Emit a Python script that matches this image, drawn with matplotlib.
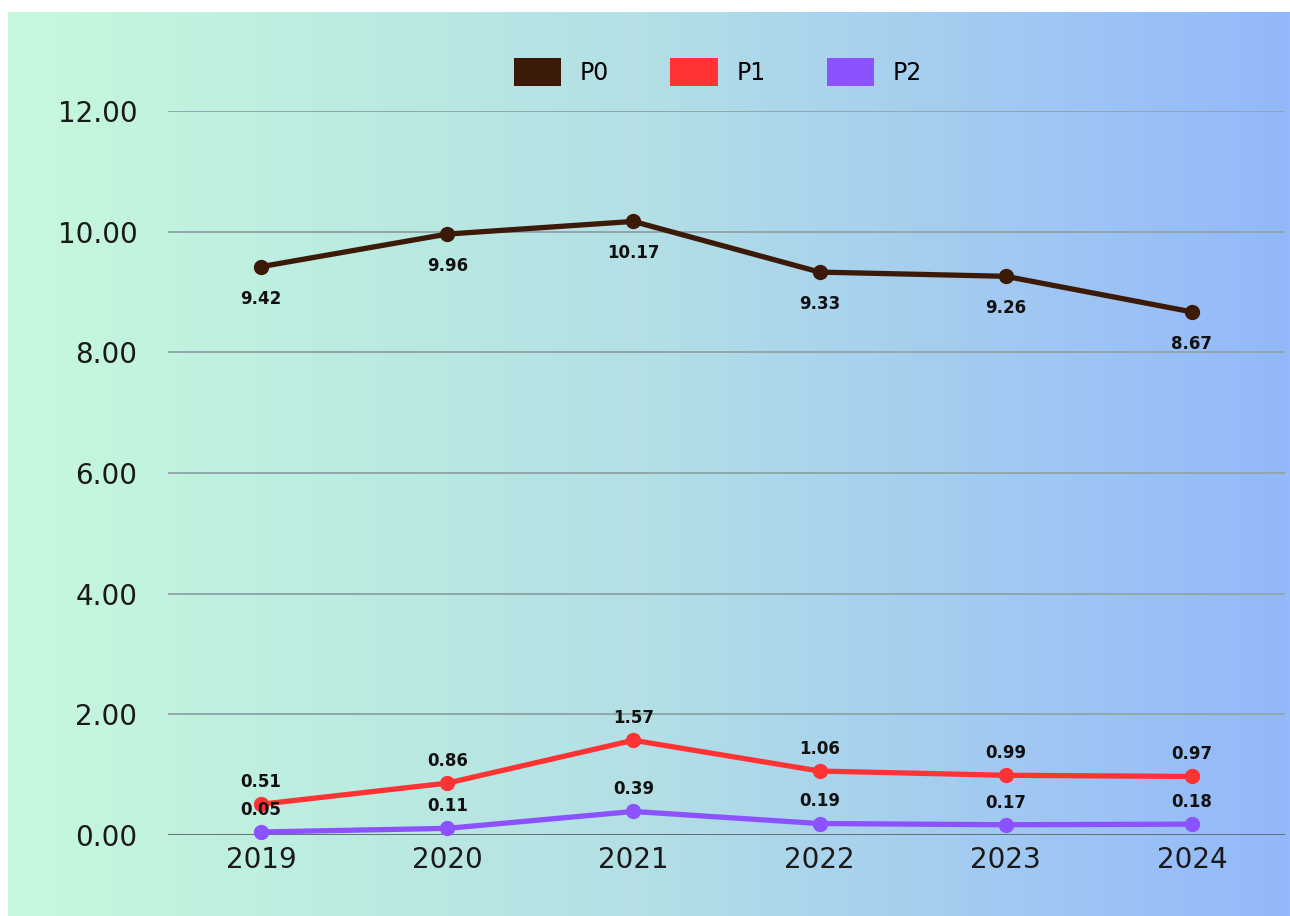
import numpy as np
import matplotlib
matplotlib.use("Agg")
import matplotlib.pyplot as plt
from matplotlib.colors import LinearSegmentedColormap
from matplotlib.patches import Patch

years = ["2019", "2020", "2021", "2022", "2023", "2024"]
p0 = [9.42, 9.96, 10.17, 9.33, 9.26, 8.67]
p1 = [0.51, 0.86, 1.57, 1.06, 0.99, 0.97]
p2 = [0.05, 0.11, 0.39, 0.19, 0.17, 0.18]
yticks = [0, 2, 4, 6, 8, 10, 12]

c0 = "#3b1a08"
c1 = "#ff3333"
c2 = "#8c52ff"

plt.rcParams['font.family'] = ['DejaVu Sans']

fig = plt.figure(figsize=(12.9, 9.16), dpi=100)

# gradient background with thin white border top/left
bg = fig.add_axes([8/1290, 0, 1 - 8/1290, 1 - 12/916])
bg.set_axis_off()
cmap = LinearSegmentedColormap.from_list("bg", ["#c6f9dc", "#b3dfe6", "#93b8fb"])
bg.imshow(np.linspace(0, 1, 256)[None, :], aspect="auto", cmap=cmap,
          extent=[0, 1, 0, 1])
bg.set_zorder(0)

ax = fig.add_axes([168/1290, (916-835)/916, (1285-168)/1290, (835-111)/916])
ax.set_zorder(1)
ax.patch.set_alpha(0)

x = np.arange(len(years))
ax.set_xlim(-0.5, len(years) - 0.5)
ax.set_ylim(0, 12)

for v in yticks:
    ax.axhline(v, color="#5f7073" if v == 0 else "#8fa7ab", lw=1.4, zorder=1)

for vals, col in [(p0, c0), (p1, c1), (p2, c2)]:
    ax.plot(x, vals, color=col, lw=3.8, marker="o", ms=10, zorder=3, clip_on=False)

lab = dict(ha="center", va="center", fontsize=12, fontweight="bold", color="#111",
           textcoords="offset points")
for i in range(len(years)):
    ax.annotate(f"{p0[i]:.2f}", (x[i], p0[i]), xytext=(0, -23), **lab)
    ax.annotate(f"{p1[i]:.2f}", (x[i], p1[i]), xytext=(0, 16), **lab)
    ax.annotate(f"{p2[i]:.2f}", (x[i], p2[i]), xytext=(0, 16), **lab)

ax.set_xticks(x)
ax.set_xticklabels(years)
ax.set_yticks(yticks)
ax.set_yticklabels([f"{v:.2f}" for v in yticks])
ax.tick_params(axis="both", length=0, labelsize=20, colors="#1a1a1a")
ax.tick_params(axis="y", pad=22)
ax.tick_params(axis="x", pad=8)
for s in ax.spines.values():
    s.set_visible(False)

handles = [Patch(facecolor=c0, label="P0"), Patch(facecolor=c1, label="P1"),
           Patch(facecolor=c2, label="P2")]
fig.legend(handles=handles, loc="center", bbox_to_anchor=(718/1290, 1 - 72/916), ncol=3,
           frameon=False, fontsize=17, handlelength=2.0, handleheight=1.5,
           columnspacing=2.6, handletextpad=0.8)

fig.savefig("out.png", dpi=100)
